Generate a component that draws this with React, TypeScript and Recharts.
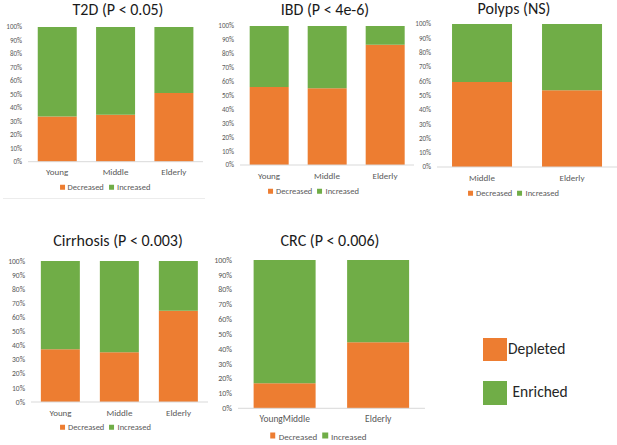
import { Bar, BarChart, XAxis, YAxis } from "recharts";

const ORANGE = "#ED7D31";
const GREEN = "#70AD47";
const FONT = "Carlito, Lato, 'Open Sans', sans-serif";

const percentTicks = [0, 10, 20, 30, 40, 50, 60, 70, 80, 90, 100];

const t2dCategories = ["Young", "Middle", "Elderly"];
const t2dDecreased = [33.6, 34.9, 51];
const t2dIncreased = [66.4, 65.1, 49];

const ibdCategories = ["Young", "Middle", "Elderly"];
const ibdDecreased = [56.1, 55.2, 86.6];
const ibdIncreased = [43.9, 44.8, 13.4];

const polypsCategories = ["Middle", "Elderly"];
const polypsDecreased = [59.4, 53.6];
const polypsIncreased = [40.6, 46.4];

const cirrhosisCategories = ["Young", "Middle", "Elderly"];
const cirrhosisDecreased = [37.4, 35.2, 64.8];
const cirrhosisIncreased = [62.6, 64.8, 35.2];

const crcCategories = ["YoungMiddle", "Elderly"];
const crcDecreased = [16.9, 44.6];
const crcIncreased = [83.1, 55.4];

type PanelProps = {
  title: string;
  categories: string[];
  decreased: number[];
  increased: number[];
  plot: [number, number, number, number];
  titleX: number;
  titleY: number;
  titleSize: number;
  tickFont: number;
  catFont: number;
  legendX: number;
  legendY: number;
  legendFont: number;
};

function SmallLegend({ x, y, size }: { x: number; y: number; size: number }) {
  const sq = size * 0.6;
  const item = (color: string, label: string) => (
    <span style={{ display: "inline-flex", alignItems: "center", marginRight: size * 0.6 }}>
      <span style={{ width: sq, height: sq, background: color, marginRight: size * 0.35, display: "inline-block" }} />
      {label}
    </span>
  );
  return (
    <div
      style={{
        position: "absolute",
        left: x,
        top: y,
        transform: "translate(-50%, -50%)",
        whiteSpace: "nowrap",
        fontSize: size,
        lineHeight: 1,
        color: "#595959",
        fontFamily: FONT,
        display: "flex",
      }}
    >
      {item(ORANGE, "Decreased")}
      {item(GREEN, "Increased")}
    </div>
  );
}

function Panel(p: PanelProps) {
  const [x1, y1, x2, y2] = p.plot;
  const yw = 30;
  const mt = 6;
  const xh = 20;
  const rows = p.categories.map((name, i) => ({
    name,
    decreased: p.decreased[i],
    increased: p.increased[i],
  }));
  return (
    <>
      <div
        style={{
          position: "absolute",
          left: p.titleX - 100,
          width: 200,
          top: p.titleY - p.titleSize * 0.55,
          textAlign: "center",
          fontSize: p.titleSize,
          lineHeight: 1,
          color: "#1a1a1a",
          fontFamily: FONT,
        }}
      >
        {p.title}
      </div>
      <div style={{ position: "absolute", left: x1 - yw, top: y1 - mt }}>
        <BarChart
          width={x2 - x1 + yw}
          height={y2 - y1 + mt + xh}
          data={rows}
          margin={{ top: mt, right: 0, bottom: 0, left: 0 }}
          barCategoryGap="16.7%"
        >
          <XAxis
            dataKey="name"
            height={xh}
            interval={0}
            tickLine={false}
            tickSize={0}
            tickMargin={11 - p.catFont * 0.4}
            axisLine={{ stroke: "#d9d9d9" }}
            tick={{ fontSize: p.catFont, fill: "#595959", fontFamily: FONT }}
          />
          <YAxis
            width={yw}
            domain={[0, 100]}
            ticks={percentTicks}
            tickFormatter={(v: number) => `${v}%`}
            axisLine={false}
            tickLine={false}
            tickSize={0}
            tickMargin={6}
            tick={{ fontSize: p.tickFont, fill: "#595959", fontFamily: FONT }}
          />
          <Bar dataKey="decreased" stackId="s" fill={ORANGE} isAnimationActive={false} />
          <Bar dataKey="increased" stackId="s" fill={GREEN} isAnimationActive={false} />
        </BarChart>
      </div>
      <SmallLegend x={p.legendX} y={p.legendY} size={p.legendFont} />
    </>
  );
}

export default function App() {
  return (
    <div
      style={{
        position: "absolute",
        left: 0,
        top: 0,
        width: 617,
        height: 445,
        background: "#fff",
        overflow: "hidden",
        fontFamily: FONT,
      }}
    >
      <div style={{ position: "absolute", left: 3, top: 198, width: 202, height: 1, background: "#ececec" }} />
      <Panel
        title="T2D (P < 0.05)"
        categories={t2dCategories}
        decreased={t2dDecreased}
        increased={t2dIncreased}
        plot={[28, 27.3, 203, 162]}
        titleX={118}
        titleY={10.5}
        titleSize={16}
        tickFont={7}
        catFont={9}
        legendX={107.5}
        legendY={187}
        legendFont={8.5}
      />
      <Panel
        title="IBD (P < 4e-6)"
        categories={ibdCategories}
        decreased={ibdDecreased}
        increased={ibdIncreased}
        plot={[240, 25.7, 414, 164.7]}
        titleX={325}
        titleY={11}
        titleSize={16}
        tickFont={7}
        catFont={9}
        legendX={316}
        legendY={191}
        legendFont={8.5}
      />
      <Panel
        title="Polyps (NS)"
        categories={polypsCategories}
        decreased={polypsDecreased}
        increased={polypsIncreased}
        plot={[437, 23.7, 617, 166.7]}
        titleX={514}
        titleY={10}
        titleSize={16}
        tickFont={7}
        catFont={9}
        legendX={516}
        legendY={193}
        legendFont={8.5}
      />
      <Panel
        title="Cirrhosis (P < 0.003)"
        categories={cirrhosisCategories}
        decreased={cirrhosisDecreased}
        increased={cirrhosisIncreased}
        plot={[30.5, 260.7, 207.5, 401.7]}
        titleX={118}
        titleY={242}
        titleSize={16}
        tickFont={7.5}
        catFont={9}
        legendX={108}
        legendY={427}
        legendFont={8.5}
      />
      <Panel
        title="CRC (P < 0.006)"
        categories={crcCategories}
        decreased={crcDecreased}
        increased={crcIncreased}
        plot={[238, 260, 425, 408.3]}
        titleX={330}
        titleY={242}
        titleSize={16}
        tickFont={8}
        catFont={9.5}
        legendX={321}
        legendY={435.7}
        legendFont={9}
      />
      <div style={{ position: "absolute", left: 483, top: 337.5, width: 23.5, height: 23.5, background: ORANGE }} />
      <div
        style={{
          position: "absolute",
          left: 508,
          top: 349,
          transform: "translateY(-50%)",
          fontSize: 15.5,
          lineHeight: 1,
          color: "#262626",
          fontFamily: FONT,
        }}
      >
        Depleted
      </div>
      <div style={{ position: "absolute", left: 483, top: 381, width: 23.5, height: 23.5, background: GREEN }} />
      <div
        style={{
          position: "absolute",
          left: 512.5,
          top: 391.7,
          transform: "translateY(-50%)",
          fontSize: 15.5,
          lineHeight: 1,
          color: "#262626",
          fontFamily: FONT,
        }}
      >
        Enriched
      </div>
    </div>
  );
}
